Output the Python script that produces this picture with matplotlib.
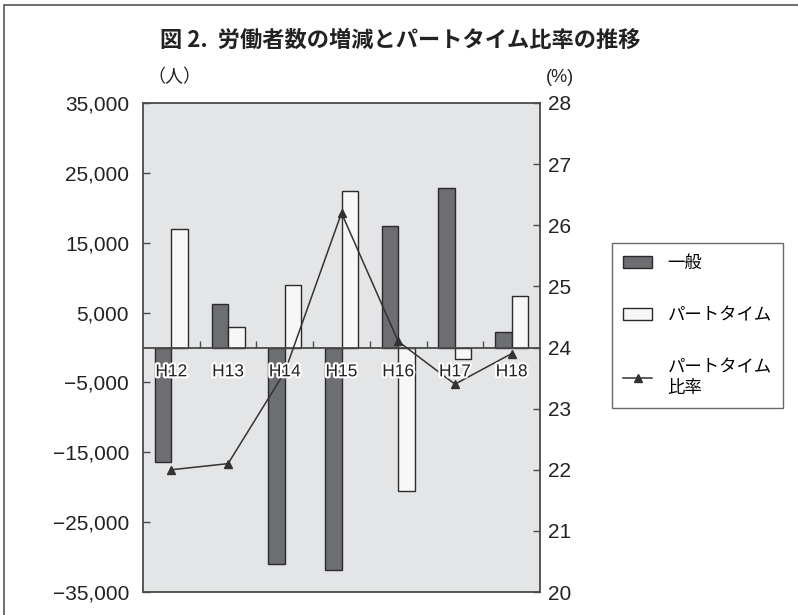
import numpy as np
import matplotlib.pyplot as plt
import matplotlib.patheffects as pe
from matplotlib.patches import Rectangle
from matplotlib.ticker import FuncFormatter

plt.rcParams['font.family'] = ['Liberation Sans', 'Noto Sans CJK JP', 'DejaVu Sans']

# 年度別の労働者数の増減（人）とパートタイム比率（%）
years = ['H12', 'H13', 'H14', 'H15', 'H16', 'H17', 'H18']
general = [-16400, 6200, -31000, -31900, 17400, 22800, 2200]
parttime = [16900, 3000, 8900, 22400, -20500, -1700, 7400]
part_ratio = [22.0, 22.1, 23.6, 26.2, 24.1, 23.4, 23.9]

left_ticks = [35000, 25000, 15000, 5000, -5000, -15000, -25000, -35000]
right_ticks = [20, 21, 22, 23, 24, 25, 26, 27, 28]

dark = '#6d6e71'
light = '#f7f7f7'
edge = '#2a2a2a'
axis_col = '#4a4a4a'

fig = plt.figure(figsize=(7.98, 6.15), dpi=100)

# outer frame of the figure
fig.patches.append(Rectangle((4 / 798, -0.05), 1.2, 1 - 5 / 615 + 0.05,
                             transform=fig.transFigure, fill=False,
                             edgecolor='#555555', linewidth=1.2))

ax = fig.add_axes([143 / 798, 1 - 592 / 615, 397 / 798, 489 / 615])
ax.set_facecolor('#e4e5e7')
x = np.arange(len(years))
w = 0.29

ax.bar(x - w / 2, general, w, color=dark, edgecolor=edge, linewidth=1.0,
       label='一般', zorder=2)
ax.bar(x + w / 2, parttime, w, color=light, edgecolor=edge, linewidth=1.0,
       label='パートタイム', zorder=2)

ax.set_xlim(-0.5, len(years) - 0.5)
ax.set_ylim(-35000, 35000)
ax.set_yticks(left_ticks)
ax.yaxis.set_major_formatter(FuncFormatter(
    lambda v, p: f'{v:,.0f}'.replace('-', '\u2212')))
ax.set_xticks([])
ax.tick_params(axis='y', direction='in', length=5, width=1, color=axis_col,
               labelsize=15, pad=10, labelcolor='#222222')

# zero line with small separators between years
ax.axhline(0, color=axis_col, linewidth=1.3, zorder=3)
ax.vlines(x[1:] - 0.5, 0, 900, color=axis_col, linewidth=1, zorder=3)

for s in ax.spines.values():
    s.set_color(axis_col)
    s.set_linewidth(1.3)

ax2 = ax.twinx()
ax2.plot(x, part_ratio, color='#333333', linewidth=1.1, marker='^',
         markersize=6, label='パートタイム\n比率', zorder=4)
ax2.set_ylim(20, 28)
ax2.set_yticks(right_ticks)
ax2.tick_params(axis='y', direction='in', length=5, width=1, color=axis_col,
                labelsize=15, pad=6, labelcolor='#222222')
for s in ax2.spines.values():
    s.set_visible(False)

# year labels just under the zero line, drawn over the line
for xi, name in zip(x, years):
    ax2.annotate(name, xy=(xi, 24), xytext=(0, -17.5), textcoords='offset points',
                 ha='center', va='center', fontsize=12.5, color='#222222',
                 zorder=6,
                 path_effects=[pe.withStroke(linewidth=3, foreground='white')])

fig.text(400 / 798, 1 - 40 / 615, '図 2.  労働者数の増減とパートタイム比率の推移',
         ha='center', va='center', fontsize=16, fontweight='bold',
         family=['Noto Sans CJK JP'], color='#222222')
fig.text(174 / 798, 1 - 77 / 615, '（人）', ha='center', va='center',
         fontsize=13, family=['Noto Sans CJK JP'], color='#222222')
fig.text(560 / 798, 1 - 77 / 615, '(%)', ha='center', va='center',
         fontsize=13, color='#222222')

h1, l1 = ax.get_legend_handles_labels()
h2, l2 = ax2.get_legend_handles_labels()
leg = fig.legend(h1 + h2, l1 + l2, loc='upper left',
                 bbox_to_anchor=(612 / 798, 1 - 243 / 615),
                 frameon=True, fancybox=False,
                 handlelength=1.65, handletextpad=0.9, labelspacing=1.95,
                 borderpad=0.65, borderaxespad=0,
                 prop={'family': ['Noto Sans CJK JP'], 'size': 12.5})
leg.get_frame().set_edgecolor('#444444')
leg.get_frame().set_linewidth(1.0)

fig.savefig('out.png', dpi=100)
